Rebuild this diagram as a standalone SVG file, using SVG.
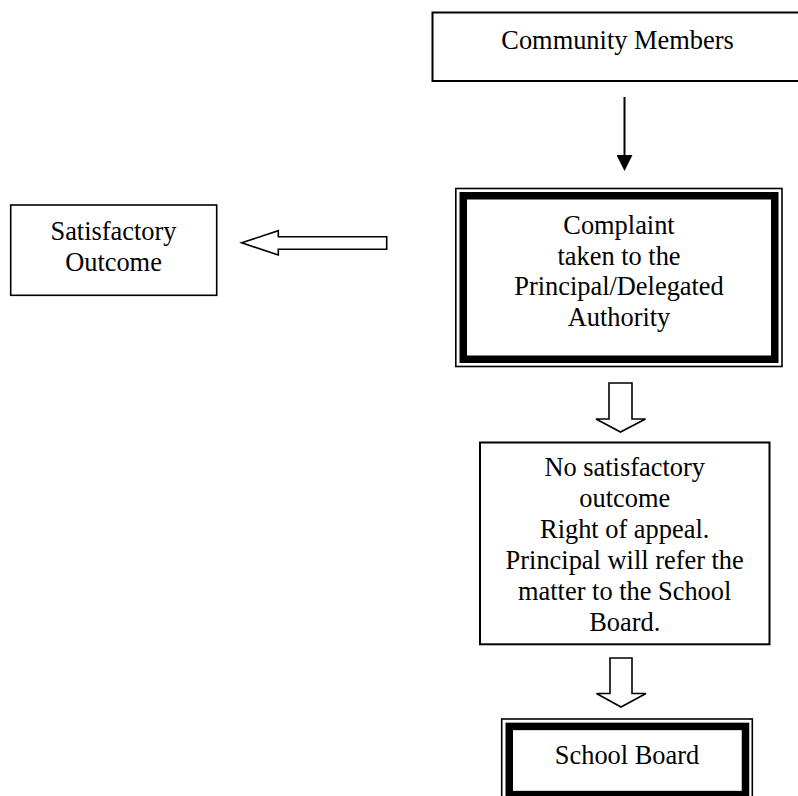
<svg xmlns="http://www.w3.org/2000/svg" width="798" height="796" viewBox="0 0 798 796">
<style>
text{font-family:"Liberation Serif","Times New Roman",serif;font-size:26.4px;fill:#000;text-anchor:middle}
.thin{fill:none;stroke:#000;stroke-width:1.6}
.thick{fill:none;stroke:#000;stroke-width:7.5}
.box{fill:#fff;stroke:#000;stroke-width:2}
.block{fill:#fff;stroke:#000;stroke-width:1.6;stroke-linejoin:miter}
</style>
<defs>
<marker id="ah" markerWidth="16" markerHeight="16" viewBox="0 0 16 16" refX="0" refY="8" orient="auto" markerUnits="userSpaceOnUse">
<path d="M0,0 L16,8 L0,16 Z" fill="#000"/>
</marker>
</defs>
<rect width="798" height="796" fill="#fff"/>
<g id="community">
<rect class="box" x="432.5" y="12.5" width="372" height="68.5"/>
<text x="617.5" y="48.5">Community Members</text>
</g>
<g id="complaint">
<rect class="thin" x="455.8" y="188.5" width="326.2" height="178"/>
<rect class="thick" x="463.25" y="195.75" width="311.5" height="163.5"/>
<text x="619" y="234">Complaint</text>
<text x="619" y="264.5">taken to the</text>
<text x="619" y="295">Principal/Delegated</text>
<text x="619" y="325.5">Authority</text>
</g>
<g id="satisfactory">
<rect class="thin" x="10.7" y="205" width="206" height="90.3"/>
<text x="113.5" y="240">Satisfactory</text>
<text x="113.5" y="271">Outcome</text>
</g>
<g id="appeal">
<rect class="box" x="480" y="442.5" width="289.5" height="201.8"/>
<text x="624.7" y="476">No satisfactory</text>
<text x="624.7" y="507">outcome</text>
<text x="624.7" y="538">Right of appeal.</text>
<text x="624.7" y="569">Principal will refer the</text>
<text x="624.7" y="599.5">matter to the School</text>
<text x="624.7" y="630.5">Board.</text>
</g>
<g id="schoolboard">
<rect class="thin" x="501.7" y="719" width="250.6" height="84"/>
<rect class="thick" x="509.25" y="726.4" width="236.25" height="68.2"/>
<text x="627" y="764">School Board</text>
</g>
<g id="connectors">
<line x1="624.5" y1="97" x2="624.5" y2="155" stroke="#000" stroke-width="2" marker-end="url(#ah)"/>
<polygon class="block" points="241.7,242.8 278.3,230.7 278.3,236.7 386.7,236.7 386.7,249.3 278.3,249.3 278.3,255"/>
<polygon class="block" points="609,383 632,383 632,419 645.5,419 620.5,432 596,419 609,419"/>
<polygon class="block" points="610,658 632,658 632,693.5 646,693.5 621,707 596.5,693.5 610,693.5"/>
</g>
</svg>
